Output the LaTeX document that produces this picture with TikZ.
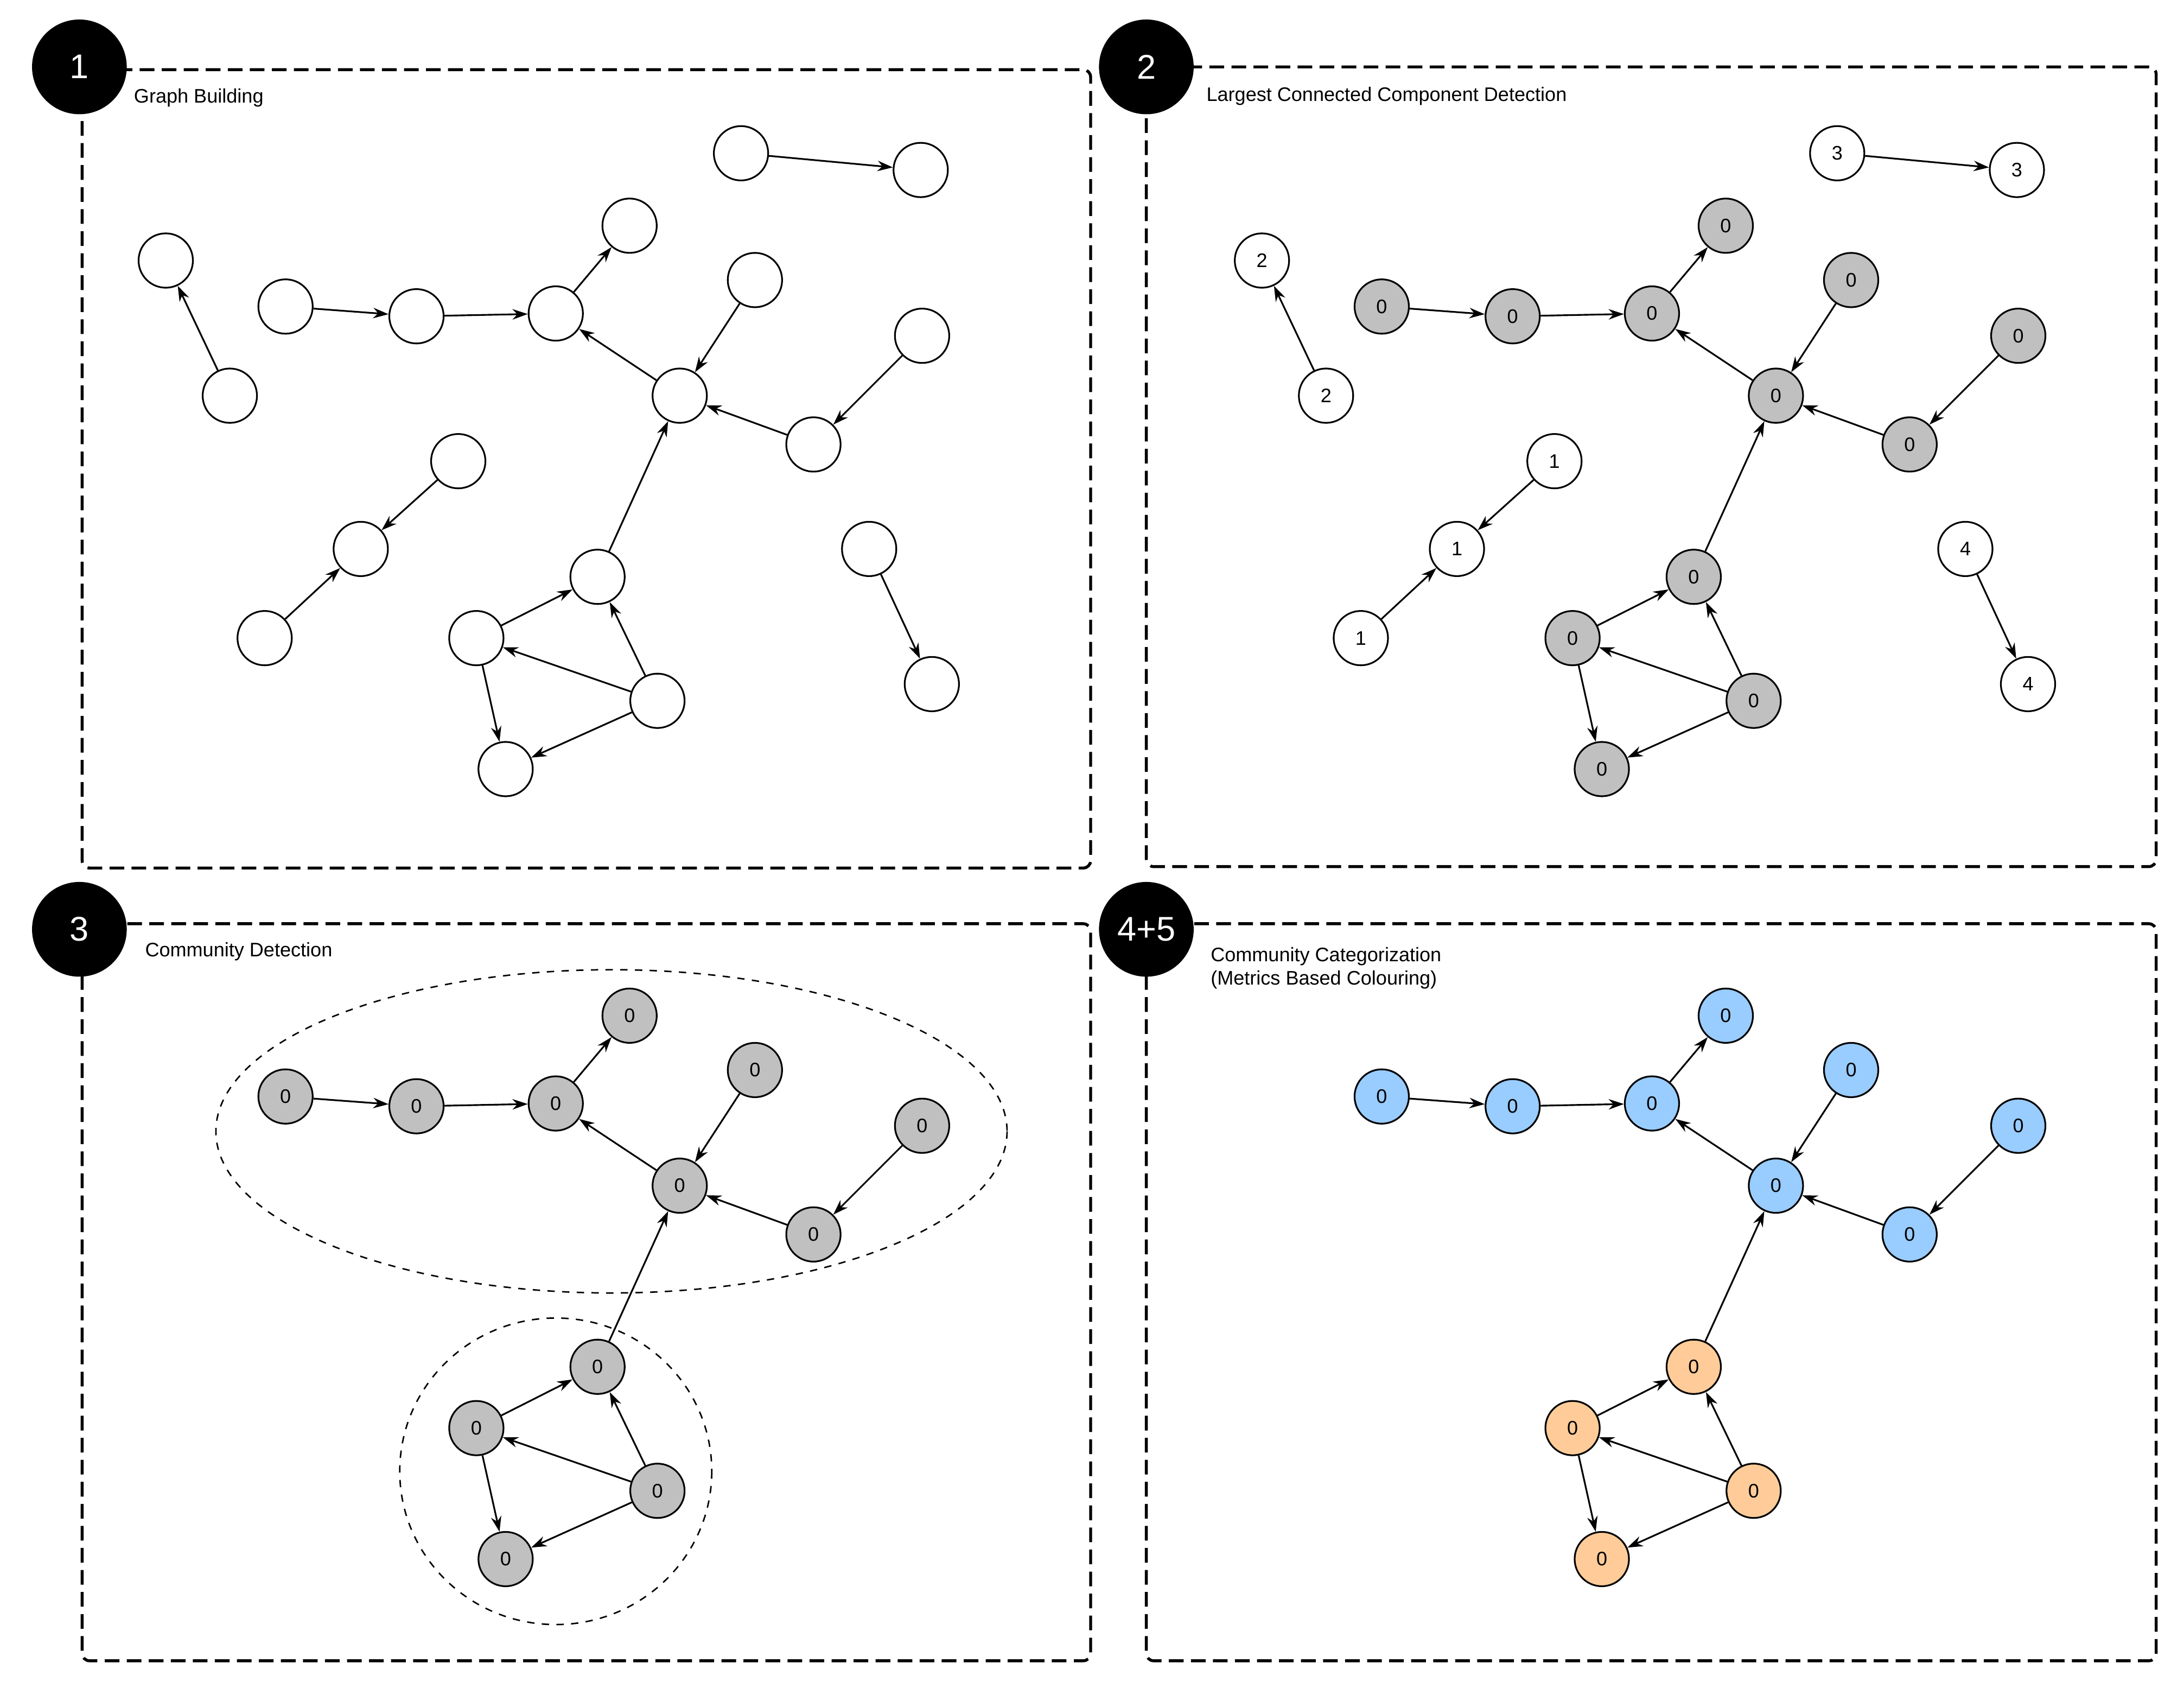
\documentclass[tikz,border=0pt]{standalone}
\usepackage{fontspec}
\setmainfont{Liberation Sans}
\usetikzlibrary{arrows.meta}
\definecolor{cgrey}{HTML}{C0C0C0}
\definecolor{cblue}{HTML}{99CCFF}
\definecolor{corange}{HTML}{FFCC99}
\newcommand\maincomp[4]{%
 \node[#2] (#1e) at (205,220) {#4};
 \node[#2] (#1f) at (299,227) {#4};
 \node[#2] (#1g) at (399,225) {#4};
 \node[#2] (#1h) at (452,162) {#4};
 \node[#2] (#1i) at (542,201) {#4};
 \node[#2] (#1j) at (488,284) {#4};
 \node[#2] (#1k) at (584,319) {#4};
 \node[#2] (#1l) at (662,241) {#4};
 \node[#3] (#1p) at (429,414) {#4};
 \node[#3] (#1q) at (342,458) {#4};
 \node[#3] (#1r) at (472,503) {#4};
 \node[#3] (#1s) at (363,552) {#4};
 \draw[arr] (#1e)--(#1f); \draw[arr] (#1f)--(#1g); \draw[arr] (#1g)--(#1h);
 \draw[arr] (#1i)--(#1j); \draw[arr] (#1j)--(#1g); \draw[arr] (#1k)--(#1j);
 \draw[arr] (#1l)--(#1k); \draw[arr] (#1p)--(#1j); \draw[arr] (#1q)--(#1p);
 \draw[arr] (#1r)--(#1p); \draw[arr] (#1r)--(#1q); \draw[arr] (#1q)--(#1s);
 \draw[arr] (#1r)--(#1s);}
\newcommand\othercomp[5]{%
 \node[nd] (#1a) at (532,110) {#5}; \node[nd] (#1b) at (661,122) {#5};
 \node[nd] (#1c) at (119,187) {#3}; \node[nd] (#1d) at (165,284) {#3};
 \node[nd] (#1m) at (329,331) {#2}; \node[nd] (#1n) at (259,394) {#2};
 \node[nd] (#1o) at (190,458) {#2};
 \node[nd] (#1t) at (624,394) {#4}; \node[nd] (#1u) at (669,491) {#4};
 \draw[arr] (#1a)--(#1b); \draw[arr] (#1d)--(#1c); \draw[arr] (#1m)--(#1n);
 \draw[arr] (#1o)--(#1n); \draw[arr] (#1t)--(#1u);}
\begin{document}
\begin{tikzpicture}[x=0.02cm,y=-0.02cm,
 nd/.style={circle,draw,line width=0.7pt,minimum size=0.78cm,inner sep=0pt,fill=white,font=\fontsize{8}{9}\selectfont},
 gnd/.style={nd,fill=cgrey},
 bnd/.style={nd,fill=cblue},
 ond/.style={nd,fill=corange},
 arr/.style={-{Stealth[length=0.22cm,width=0.15cm]},line width=0.7pt},
 frame/.style={draw,dashed,line width=1.2pt,rounded corners=3pt,dash pattern=on 6pt off 3pt},
 badge/.style={circle,fill=black,minimum size=1.36cm,inner sep=0pt,text=white,font=\fontsize{14}{16}\selectfont},
 ttl/.style={anchor=west,font=\fontsize{8}{9.5}\selectfont,align=left}]
\useasboundingbox (0,0) rectangle (1568,1211.5);
\path[frame] (59,50) rectangle (783,623);
\path[frame] (823,48) rectangle (1548,622);
\path[frame] (59,663) rectangle (783,1192);
\path[frame] (823,663) rectangle (1548,1192);
\node[badge] (b1) at (57,48) {1};
\node[badge] (b2) at (823,48) {2};
\node[badge] (b3) at (57,667) {3};
\node[badge] (b4) at (823,667) {4+5};
\node[ttl] (t1) at (90,70) {Graph Building};
\node[ttl] (t2) at (860,69) {Largest Connected Component Detection};
\node[ttl] (t3) at (98,683) {Community Detection};
\node[ttl] (t4) at (863,695) {Community Categorization\\ (Metrics Based Colouring)};
% panel 1
\maincomp{A}{nd}{nd}{}
\othercomp{A}{}{}{}{}
% panel 2
\begin{scope}[shift={(787,0)}]
\maincomp{B}{gnd}{gnd}{0}
\othercomp{B}{1}{2}{4}{3}
\end{scope}
% panel 3
\begin{scope}[shift={(0,567)}]
\draw[dashed,line width=0.6pt] (439,245) ellipse [x radius=284,y radius=116];
\draw[dashed,line width=0.6pt] (399,489) ellipse [x radius=112,y radius=110];
\maincomp{C}{gnd}{gnd}{0}
\end{scope}
% panel 4
\begin{scope}[shift={(787,567)}]
\maincomp{D}{bnd}{ond}{0}
\end{scope}
\end{tikzpicture}
\end{document}
